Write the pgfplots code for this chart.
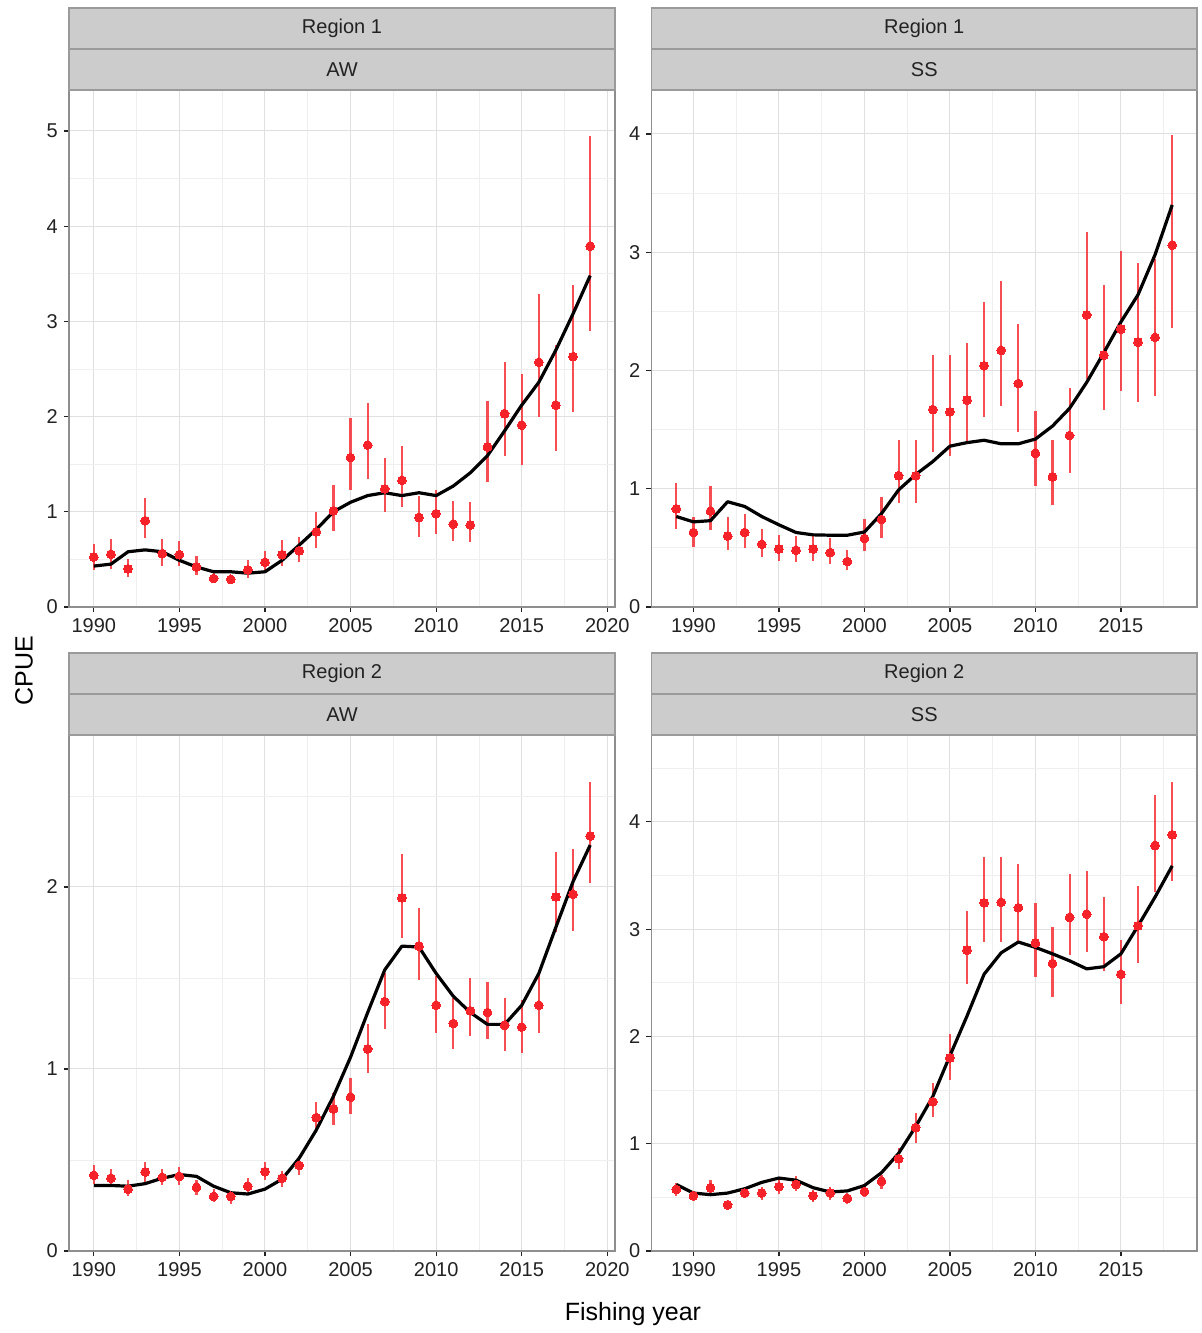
\documentclass[border=0pt]{standalone}
\usepackage{fontspec}
\setmainfont{Liberation Sans}
\usepackage{pgfplots}
\usepackage{pgfplotstable}
\pgfplotsset{compat=1.18}
\definecolor{ptred}{HTML}{F5222A}
\definecolor{stripfill}{HTML}{CCCCCC}
\definecolor{stripline}{HTML}{9A9A9A}
\definecolor{frame}{HTML}{8E8E8E}
\definecolor{gmaj}{HTML}{E0E0E0}
\definecolor{gmin}{HTML}{EFEFEF}
\definecolor{txt}{HTML}{222222}

% ---------- data ----------
\pgfplotstableread{
yr y lo hi
1990 0.525 0.39 0.66
1991 0.554 0.40 0.71
1992 0.40 0.31 0.50
1993 0.906 0.72 1.14
1994 0.56 0.43 0.71
1995 0.55 0.43 0.69
1996 0.42 0.34 0.54
1997 0.30 0.25 0.36
1998 0.29 0.24 0.34
1999 0.39 0.30 0.49
2000 0.47 0.36 0.59
2001 0.55 0.43 0.70
2002 0.59 0.47 0.73
2003 0.79 0.62 1.00
2004 1.01 0.80 1.28
2005 1.57 1.23 1.99
2006 1.70 1.34 2.14
2007 1.24 1.00 1.57
2008 1.33 1.05 1.69
2009 0.94 0.74 1.17
2010 0.98 0.77 1.23
2011 0.87 0.69 1.11
2012 0.86 0.68 1.10
2013 1.68 1.31 2.16
2014 2.03 1.59 2.57
2015 1.91 1.49 2.45
2016 2.57 2.00 3.29
2017 2.12 1.64 2.75
2018 2.63 2.05 3.38
2019 3.79 2.90 4.95
}\ptsA
\pgfplotstableread{
yr f
1990 0.43
1991 0.45
1992 0.58
1993 0.60
1994 0.58
1995 0.49
1996 0.42
1997 0.37
1998 0.37
1999 0.355
2000 0.37
2001 0.49
2002 0.65
2003 0.815
2004 1.00
2005 1.10
2006 1.17
2007 1.20
2008 1.17
2009 1.20
2010 1.17
2011 1.27
2012 1.41
2013 1.59
2014 1.85
2015 2.12
2016 2.36
2017 2.70
2018 3.08
2019 3.48
}\fitA
\pgfplotstableread{
yr y lo hi
1989 0.83 0.66 1.05
1990 0.63 0.51 0.76
1991 0.81 0.65 1.02
1992 0.60 0.48 0.76
1993 0.63 0.50 0.79
1994 0.53 0.42 0.66
1995 0.49 0.39 0.61
1996 0.48 0.38 0.60
1997 0.49 0.39 0.61
1998 0.46 0.36 0.58
1999 0.385 0.31 0.48
2000 0.58 0.47 0.74
2001 0.74 0.58 0.93
2002 1.11 0.88 1.41
2003 1.11 0.88 1.41
2004 1.67 1.31 2.13
2005 1.65 1.28 2.13
2006 1.75 1.40 2.23
2007 2.04 1.61 2.58
2008 2.17 1.70 2.76
2009 1.89 1.48 2.39
2010 1.30 1.02 1.66
2011 1.10 0.86 1.41
2012 1.45 1.13 1.85
2013 2.47 1.93 3.17
2014 2.13 1.67 2.72
2015 2.35 1.83 3.01
2016 2.24 1.73 2.91
2017 2.28 1.78 2.94
2018 3.06 2.36 3.99
}\ptsB
\pgfplotstableread{
yr f
1989 0.765
1990 0.72
1991 0.73
1992 0.89
1993 0.85
1994 0.765
1995 0.695
1996 0.63
1997 0.61
1998 0.607
1999 0.607
2000 0.634
2001 0.79
2002 0.99
2003 1.12
2004 1.23
2005 1.36
2006 1.39
2007 1.41
2008 1.38
2009 1.38
2010 1.42
2011 1.53
2012 1.68
2013 1.90
2014 2.15
2015 2.41
2016 2.64
2017 2.98
2018 3.40
}\fitB
\pgfplotstableread{
yr y lo hi
1990 0.416 0.37 0.47
1991 0.40 0.35 0.45
1992 0.34 0.30 0.39
1993 0.434 0.38 0.49
1994 0.405 0.36 0.45
1995 0.41 0.36 0.46
1996 0.35 0.31 0.39
1997 0.30 0.27 0.34
1998 0.30 0.26 0.33
1999 0.356 0.31 0.40
2000 0.436 0.39 0.49
2001 0.40 0.35 0.44
2002 0.47 0.42 0.52
2003 0.733 0.655 0.82
2004 0.78 0.69 0.87
2005 0.845 0.75 0.95
2006 1.11 0.98 1.245
2007 1.37 1.22 1.525
2008 1.94 1.72 2.18
2009 1.675 1.49 1.885
2010 1.35 1.20 1.51
2011 1.25 1.11 1.39
2012 1.32 1.18 1.50
2013 1.31 1.165 1.48
2014 1.24 1.10 1.39
2015 1.23 1.09 1.38
2016 1.35 1.20 1.525
2017 1.945 1.75 2.19
2018 1.96 1.76 2.21
2019 2.28 2.02 2.575
}\ptsC
\pgfplotstableread{
yr f
1990 0.36
1991 0.36
1992 0.356
1993 0.37
1994 0.40
1995 0.42
1996 0.41
1997 0.356
1998 0.32
1999 0.313
2000 0.34
2001 0.395
2002 0.51
2003 0.665
2004 0.85
2005 1.065
2006 1.31
2007 1.545
2008 1.675
2009 1.67
2010 1.525
2011 1.40
2012 1.31
2013 1.245
2014 1.245
2015 1.35
2016 1.525
2017 1.78
2018 2.03
2019 2.23
}\fitC
\pgfplotstableread{
yr y lo hi
1989 0.574 0.51 0.63
1990 0.515 0.47 0.56
1991 0.59 0.53 0.66
1992 0.43 0.38 0.48
1993 0.54 0.49 0.60
1994 0.54 0.48 0.60
1995 0.60 0.53 0.67
1996 0.62 0.56 0.70
1997 0.515 0.46 0.57
1998 0.54 0.48 0.60
1999 0.49 0.44 0.54
2000 0.555 0.50 0.61
2001 0.65 0.58 0.71
2002 0.86 0.76 0.96
2003 1.15 1.01 1.29
2004 1.39 1.245 1.57
2005 1.80 1.59 2.02
2006 2.805 2.49 3.17
2007 3.245 2.88 3.67
2008 3.25 2.88 3.67
2009 3.20 2.89 3.61
2010 2.87 2.55 3.24
2011 2.68 2.37 3.02
2012 3.11 2.76 3.51
2013 3.14 2.79 3.54
2014 2.93 2.61 3.30
2015 2.58 2.30 2.90
2016 3.03 2.68 3.40
2017 3.78 3.35 4.25
2018 3.88 3.45 4.37
}\ptsD
\pgfplotstableread{
yr f
1989 0.62
1990 0.54
1991 0.525
1992 0.54
1993 0.58
1994 0.64
1995 0.68
1996 0.66
1997 0.59
1998 0.55
1999 0.56
2000 0.61
2001 0.73
2002 0.91
2003 1.16
2004 1.44
2005 1.82
2006 2.19
2007 2.58
2008 2.78
2009 2.88
2010 2.83
2011 2.77
2012 2.705
2013 2.63
2014 2.65
2015 2.77
2016 3.03
2017 3.30
2018 3.59
}\fitD

\pgfplotsset{
  panel/.style={
    scale only axis,
    anchor=south west,
    ymin=0,
    axis background/.style={fill=white},
    axis line style={draw=frame, line width=0.6pt},
    tick align=outside,
    xtick pos=bottom, ytick pos=left,
    major tick length=2.6pt,
    minor tick length=0pt,
    major tick style={draw=txt, line width=0.6pt},
    grid=both,
    major grid style={draw=gmaj, line width=0.5pt},
    minor grid style={draw=gmin, line width=0.4pt},
    xtick={1990,1995,2000,2005,2010,2015,2020},
    minor xtick={1992.5,1997.5,2002.5,2007.5,2012.5,2017.5},
    /pgf/number format/assume math mode=true,
    /pgf/number format/1000 sep={},
    ticklabel style={font=\fontsize{10}{12}\selectfont, text=txt},
    xticklabel style={yshift=0.5pt},
    yticklabel style={xshift=0.5pt},
    clip=true,
  },
  pts/.style={
    color=ptred, only marks, mark=*, mark size=2.2pt,
    mark options={fill=ptred, draw=ptred, line width=0pt},
    error bars/.cd, y dir=both, y explicit, error mark=none,
    error bar style={line width=1.1pt, draw=ptred, opacity=0.8},
  },
  fit/.style={black, line width=1.6pt, no marks, line join=round},
}

\newcommand{\strip}[4]{% x0, x1, ytop, label
  \draw[fill=stripfill, draw=stripline, line width=0.6pt] (#1,#3) rectangle (#2,#3-20.5pt);
  \node[font=\fontsize{10}{12}\selectfont, text=txt] at ({(#1+#2)/2},#3-10.25pt) {#4};
}

\begin{document}
\begin{tikzpicture}
\useasboundingbox (0,0) rectangle (601pt,666.5pt);

% top-left
\begin{axis}[panel, at={(34.5pt,363pt)}, width=273pt, height=258.5pt,
  xmin=1988.55, xmax=2020.45, ymax=5.43,
  ytick={0,1,2,3,4,5}, minor ytick={0.5,1.5,2.5,3.5,4.5}]
  \addplot[pts] table[x=yr, y=y, y error plus expr=\thisrow{hi}-\thisrow{y}, y error minus expr=\thisrow{y}-\thisrow{lo}] {\ptsA};
  \addplot[fit] table[x=yr, y=f] {\fitA};
\end{axis}

% top-right
\begin{axis}[panel, at={(325.75pt,363pt)}, width=272.75pt, height=258.5pt,
  xmin=1987.55, xmax=2019.45, ymax=4.372,
  ytick={0,1,2,3,4}, minor ytick={0.5,1.5,2.5,3.5}]
  \addplot[pts] table[x=yr, y=y, y error plus expr=\thisrow{hi}-\thisrow{y}, y error minus expr=\thisrow{y}-\thisrow{lo}] {\ptsB};
  \addplot[fit] table[x=yr, y=f] {\fitB};
\end{axis}

% bottom-left
\begin{axis}[panel, at={(34.5pt,41pt)}, width=273pt, height=258pt,
  xmin=1988.55, xmax=2020.45, ymax=2.835,
  ytick={0,1,2}, minor ytick={0.5,1.5,2.5}]
  \addplot[pts] table[x=yr, y=y, y error plus expr=\thisrow{hi}-\thisrow{y}, y error minus expr=\thisrow{y}-\thisrow{lo}] {\ptsC};
  \addplot[fit] table[x=yr, y=f] {\fitC};
\end{axis}

% bottom-right
\begin{axis}[panel, at={(325.75pt,41pt)}, width=272.75pt, height=258pt,
  xmin=1987.55, xmax=2019.45, ymax=4.81,
  ytick={0,1,2,3,4}, minor ytick={0.5,1.5,2.5,3.5,4.5}]
  \addplot[pts] table[x=yr, y=y, y error plus expr=\thisrow{hi}-\thisrow{y}, y error minus expr=\thisrow{y}-\thisrow{lo}] {\ptsD};
  \addplot[fit] table[x=yr, y=f] {\fitD};
\end{axis}

% strips
\strip{34.5pt}{307.5pt}{662.5pt}{Region 1}
\strip{34.5pt}{307.5pt}{642pt}{AW}
\strip{325.75pt}{598.5pt}{662.5pt}{Region 1}
\strip{325.75pt}{598.5pt}{642pt}{SS}
\strip{34.5pt}{307.5pt}{340pt}{Region 2}
\strip{34.5pt}{307.5pt}{319.5pt}{AW}
\strip{325.75pt}{598.5pt}{340pt}{Region 2}
\strip{325.75pt}{598.5pt}{319.5pt}{SS}

% axis titles
\node[rotate=90, font=\fontsize{12.5}{15}\selectfont, text=black] at (12pt,331pt) {CPUE};
\node[font=\fontsize{12.5}{15}\selectfont, text=black] at (316.5pt,9.5pt) {Fishing year};
\end{tikzpicture}
\end{document}
